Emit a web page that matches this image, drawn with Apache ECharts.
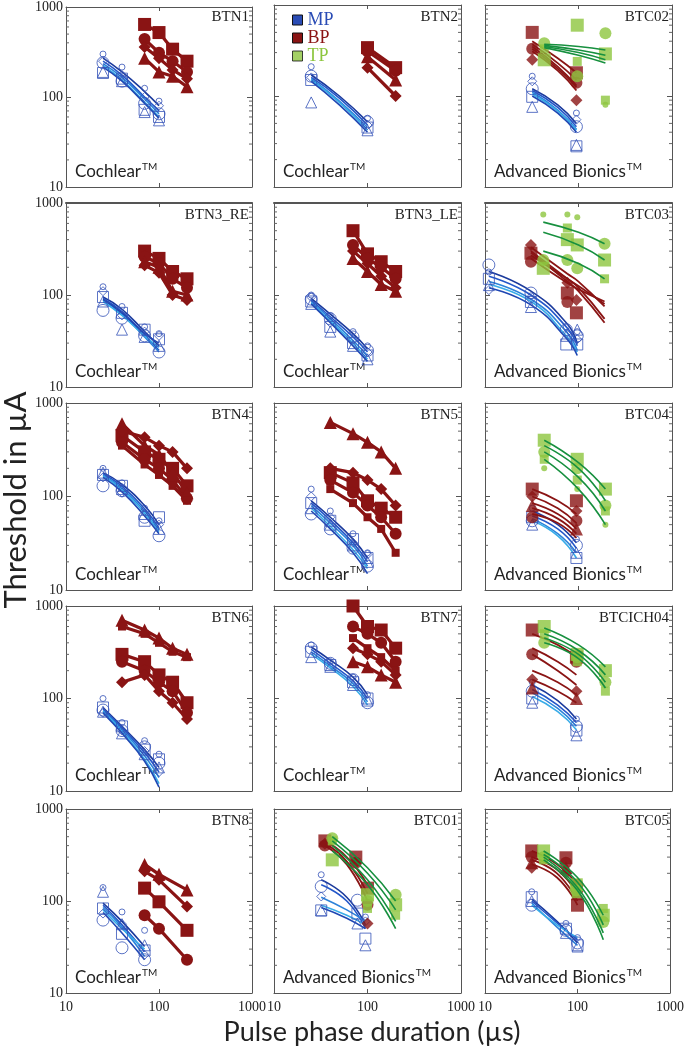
<!DOCTYPE html>
<html><head><meta charset="utf-8">
<script src="https://cdn.jsdelivr.net/npm/echarts@6/dist/echarts.min.js"></script>
<style>html,body{margin:0;padding:0;background:#fff}#c{width:687px;height:1050px}</style>
</head><body><div id="c"></div><script>
// ---------- shared x positions (µs) ----------
const CI_MP_X = [25, 40, 70, 100];
const CI_BP_X = [70, 100, 140, 200];
const CI_BP_X5 = [40, 70, 100, 140, 200];
const AB_MP_X = [32, 95];
const AB_FX = [32, 60, 95];
const AB_TP_X = [43, 97, 194];
const AB_TP_FX = [43, 100, 194];
const TICKS_MINOR = [20,30,40,50,60,70,80,90,200,300,400,500,600,700,800,900];

// ---------- BTN1 ----------
const BTN1_MP = [[300,215,125,90],[240,150,85,65],[185,160,72,60],[190,150,68,55],[250,175,100,80]];
const BTN1_MP_FIT = [[270,190,115,80],[250,175,100,70],[235,165,95,65],[225,155,88,60],[215,150,85,58]];
const BTN1_BP = [[640,520,340,250],[440,310,250,190],[360,270,200,160],[270,190,170,130]];
// ---------- BTN2 ----------
const BTN2_MP_X = [25, 100];
const BTN2_MP = [[210,57],[165,52],[150,45],[85,42],[160,48]];
const BTN2_MP_FX = [25, 50, 100];
const BTN2_MP_FIT = [[170,100,52],[160,95,48],[155,88,45],[150,85,42],[145,80,40]];
const BTN2_BP_X = [100, 200];
const BTN2_BP = [[340,205],[310,190],[205,100],[270,150]];
// ---------- BTC02 ----------
const BTC02_MP = [[165,65],[120,46],[98,28],[76,29],[145,55]];
const BTC02_MP_FIT = [[120,80,50],[115,75,46],[110,70,43],[105,68,42],[100,65,40]];
const BTC02_BP = [[500,180],[330,140],[250,90]];
const BTC02_BP_FIT = [[400,260,180],[370,230,150],[350,210,130],[330,200,125],[310,190,115]];
const BTC02_TP = [[250,600,290],[380,165,490],[330,240,90],[null,null,80]];
const BTC02_TP_FIT = [[370,350,320],[360,320,280],[350,300,250],[340,280,230]];
// ---------- BTN3_RE ----------
const BTN3_RE_MP = [[123,75,45,38],[68,56,36,24],[95,64,42,33],[85,42,35,28],[110,60,40,36]];
const BTN3_RE_MP_FIT = [[95,70,40,28],[92,66,37,25],[88,62,35,24],[85,60,36,27],[90,64,38,30]];
const BTN3_RE_BP = [[300,250,180,150],[260,220,150,120],[210,175,100,88],[230,200,110,100]];
// ---------- BTN3_LE ----------
const BTN3_LE_MP = [[100,60,40,28],[90,55,35,25],[85,45,30,22],[80,40,28,20],[95,50,33,24]];
const BTN3_LE_MP_FIT = [[92,62,38,26],[88,58,35,24],[85,55,32,22],[82,52,30,20],[80,50,28,19]];
const BTN3_LE_BP = [[500,280,230,180],[350,250,200,150],[300,220,160,120],[250,180,130,110]];
// ---------- BTC03 ----------
const BTC03_MP_X = [11, 31, 74, 97];
const BTC03_MP = [[178,98,45,40],[212,105,42,36],[150,84,29,29],[128,74,36,42],[113,90,38,33]];
const BTC03_MP_FIT = [[180,110,50,30],[160,100,45,28],[140,90,40,25],[130,85,36,24],[120,78,34,22]];
const BTC03_BP_X = [31, 76, 95];
const BTC03_BP = [[285,105,64],[230,84,null],[350,136,88]];
const BTC03_BP_FX = [31, 76, 100, 190];
const BTC03_BP_FIT = [[330,170,140,75],[300,150,120,55],[290,140,110,50],[270,150,125,80],[250,135,115,85]];
const BTC03_TP_X = [42, 76, 97, 190];
const BTC03_TP = [[195,400,350,240],[240,240,195,360],[null,535,null,150],[750,750,700,null]];
const BTC03_TP_FX = [42, 100, 190];
const BTC03_TP_FIT = [[620,480,360],[480,350,240],[300,220,150]];
// ---------- BTN4 ----------
const BTN4_MP = [[200,140,75,55],[130,115,60,38],[170,130,55,60],[180,120,65,45],[160,110,70,50]];
const BTN4_MP_FIT = [[180,135,80,50],[175,128,74,46],[170,122,70,44],[165,118,66,42],[160,112,62,40]];
const BTN4_BP = [[450,300,250,200,130],[380,250,200,150,95],[500,430,350,300,200],[600,350,280,180,110],[350,220,170,130,90]];
// ---------- BTN5 ----------
const BTN5_MP = [[120,70,40,25],[65,45,28,18],[85,55,35,22],[75,50,30,20],[100,60,32,24]];
const BTN5_MP_FIT = [[90,60,35,22],[85,56,32,20],[80,52,30,18],[75,48,27,17],[70,45,25,15]];
const BTN5_BP = [[180,140,90,75,60],[150,110,80,60,40],[200,180,150,120,80],[620,470,380,300,200],[120,85,60,45,25]];
// ---------- BTC04 ----------
const BTC04_MP = [[75,35],[55,30],[60,22],[50,25]];
const BTC04_MP_FIT = [[70,50,32],[62,45,28],[58,40,25],[55,38,22]];
const BTC04_BP = [[120,90],[60,55],[100,70],[80,45]];
const BTC04_BP_FIT = [[120,90,65],[100,75,52],[85,65,45],[75,58,40],[65,52,36]];
const BTC04_TP = [[400,250,120],[300,200,80],[250,150,70],[200,120,50]];
const BTC04_TP_FIT = [[400,230,120],[350,200,90],[300,160,70],[250,120,50]];
// ---------- BTN6 ----------
const BTN6_MP = [[100,55,35,25],[75,45,30,20],[80,50,28,22],[72,42,25,18],[70,45,27,16]];
const BTN6_MP_FIT = [[80,50,28,18],[77,48,26,16],[74,46,24,14],[72,44,22,12],[70,42,21,11]];
const BTN6_BP = [[300,250,180,150,90],[250,200,150,120,70],[150,180,120,90,60],[700,550,450,350,300],[600,500,400,320,280]];
// ---------- BTN7 ----------
const BTN7_MP = [[380,250,170,110],[350,240,160,90],[320,230,150,100],[280,220,140,95]];
const BTN7_MP_FIT = [[360,260,170,110],[340,240,155,100],[320,225,145,92],[300,215,135,85]];
const BTN7_BP = [[1000,600,550,350],[600,500,400,250],[350,300,250,180],[250,220,180,150],[450,350,280,200]];
// ---------- BTCICH04 ----------
const BTCICH04_MP = [[150,60],[120,50],[100,45],[90,40]];
const BTCICH04_MP_FIT = [[140,95,60],[125,85,55],[115,78,50],[105,72,46]];
const BTCICH04_BP = [[550,280],[300,250],[160,120],[130,100]];
const BTCICH04_BP_FIT = [[500,380,280],[350,250,180],[300,200,140],[200,150,110],[160,120,90]];
const BTCICH04_TP = [[600,300,200],[400,280,150],[500,250,120]];
const BTCICH04_TP_FIT = [[580,380,220],[500,330,180],[450,300,150],[400,270,130]];
// ---------- BTN8 ----------
const BTN8_MP_X = [25, 40, 70];
const BTN8_MP = [[140,76,48],[62,31,23],[83,44,29],[126,56,33],[73,56,26]];
const BTN8_MP_FIT = [[95,60,32],[90,55,28],[85,52,25],[80,50,30],[75,45,23]];
const BTN8_BP_X = [70, 100, 200];
const BTN8_BP = [[138,98,48],[70,50,23],[210,170,87],[250,195,132]];
// ---------- BTC01 ----------
const BTC01_MP_X = [32, 78, 95];
const BTC01_MP = [[193,null,67],[144,102,null],[79,73,39],[79,57,33],[112,null,60]];
const BTC01_MP_FIT = [[170,110,55],[150,100,50],[110,80,60],[90,70,55],[85,65,50]];
const BTC01_BP_X = [35, 75, 100];
const BTC01_BP = [[450,300,138],[400,260,91],[420,260,57]];
const BTC01_BP_FX = [35, 60, 100];
const BTC01_BP_FIT = [[450,300,150],[420,270,120],[400,250,100]];
const BTC01_TP_X = [42, 100, 200];
const BTC01_TP = [[280,117,91],[480,100,117],[450,83,70]];
const BTC01_TP_FIT = [[500,230,100],[450,200,80],[400,170,60],[350,150,50]];
// ---------- BTC05 ----------
const BTC05_MP_X = [32, 75, 100];
const BTC05_MP = [[126,57,40],[90,48,35],[110,50,33],[100,45,32]];
const BTC05_MP_FX = [32, 60, 100];
const BTC05_MP_FIT = [[105,60,35],[100,58,38],[95,52,33],[90,55,40]];
const BTC05_BP = [[350,295,90],[300,260,150],[230,200,126],[260,230,120]];
const BTC05_BP_FIT = [[350,250,150],[300,220,120],[280,200,100],[250,180,90]];
const BTC05_TP_X = [43, 97, 190];
const BTC05_TP = [[350,150,70],[300,130,59],[280,120,83]];
const BTC05_TP_FX = [43, 100, 190];
const BTC05_TP_FIT = [[350,180,70],[320,160,55],[300,140,45],[280,130,38]];

// ---------- panel table (built from the arrays above) ----------
const PANELS = [
 {name:'BTN1', brand:'Cochlear', mp:[CI_MP_X,BTN1_MP,CI_MP_X,BTN1_MP_FIT], bp:[CI_BP_X,BTN1_BP]},
 {name:'BTN2', brand:'Cochlear', mp:[BTN2_MP_X,BTN2_MP,BTN2_MP_FX,BTN2_MP_FIT], bp:[BTN2_BP_X,BTN2_BP]},
 {name:'BTC02', brand:'Advanced Bionics', mp:[AB_MP_X,BTC02_MP,AB_FX,BTC02_MP_FIT], bp:[AB_MP_X,BTC02_BP,AB_FX,BTC02_BP_FIT], tp:[AB_TP_X,BTC02_TP,AB_TP_FX,BTC02_TP_FIT]},
 {name:'BTN3_RE', brand:'Cochlear', mp:[CI_MP_X,BTN3_RE_MP,CI_MP_X,BTN3_RE_MP_FIT], bp:[CI_BP_X,BTN3_RE_BP]},
 {name:'BTN3_LE', brand:'Cochlear', mp:[CI_MP_X,BTN3_LE_MP,CI_MP_X,BTN3_LE_MP_FIT], bp:[CI_BP_X,BTN3_LE_BP]},
 {name:'BTC03', brand:'Advanced Bionics', mp:[BTC03_MP_X,BTC03_MP,BTC03_MP_X,BTC03_MP_FIT], bp:[BTC03_BP_X,BTC03_BP,BTC03_BP_FX,BTC03_BP_FIT], tp:[BTC03_TP_X,BTC03_TP,BTC03_TP_FX,BTC03_TP_FIT]},
 {name:'BTN4', brand:'Cochlear', mp:[CI_MP_X,BTN4_MP,CI_MP_X,BTN4_MP_FIT], bp:[CI_BP_X5,BTN4_BP]},
 {name:'BTN5', brand:'Cochlear', mp:[CI_MP_X,BTN5_MP,CI_MP_X,BTN5_MP_FIT], bp:[CI_BP_X5,BTN5_BP]},
 {name:'BTC04', brand:'Advanced Bionics', mp:[AB_MP_X,BTC04_MP,AB_FX,BTC04_MP_FIT], bp:[AB_MP_X,BTC04_BP,AB_FX,BTC04_BP_FIT], tp:[AB_TP_X,BTC04_TP,AB_TP_FX,BTC04_TP_FIT]},
 {name:'BTN6', brand:'Cochlear', mp:[CI_MP_X,BTN6_MP,CI_MP_X,BTN6_MP_FIT], bp:[CI_BP_X5,BTN6_BP]},
 {name:'BTN7', brand:'Cochlear', mp:[CI_MP_X,BTN7_MP,CI_MP_X,BTN7_MP_FIT], bp:[CI_BP_X,BTN7_BP]},
 {name:'BTCICH04', brand:'Advanced Bionics', mp:[AB_MP_X,BTCICH04_MP,AB_FX,BTCICH04_MP_FIT], bp:[AB_MP_X,BTCICH04_BP,AB_FX,BTCICH04_BP_FIT], tp:[AB_TP_X,BTCICH04_TP,AB_TP_FX,BTCICH04_TP_FIT]},
 {name:'BTN8', brand:'Cochlear', mp:[BTN8_MP_X,BTN8_MP,BTN8_MP_X,BTN8_MP_FIT], bp:[BTN8_BP_X,BTN8_BP]},
 {name:'BTC01', brand:'Advanced Bionics', mp:[BTC01_MP_X,BTC01_MP,AB_FX,BTC01_MP_FIT], bp:[BTC01_BP_X,BTC01_BP,BTC01_BP_FX,BTC01_BP_FIT], tp:[BTC01_TP_X,BTC01_TP,BTC01_TP_X,BTC01_TP_FIT]},
 {name:'BTC05', brand:'Advanced Bionics', mp:[BTC05_MP_X,BTC05_MP,BTC05_MP_FX,BTC05_MP_FIT], bp:[BTC05_MP_X,BTC05_BP,BTC05_MP_FX,BTC05_BP_FIT], tp:[BTC05_TP_X,BTC05_TP,BTC05_TP_FX,BTC05_TP_FIT]}
];

// ---------- layout & style ----------
const COL_LEFT = [66, 274, 485];
const COL_W = [186, 187, 187];
const ROW_TOP = [5, 203, 403, 606, 809];
const ROW_H = [182, 184, 187, 185, 184];
const MP_COLOR = '#3552b8';
const BP_COLOR = '#8a1414';
const TP_COLOR = '#8dc63f';
const TP_LINE = '#17903f';
const MP_LINES = ['#1b3a9c','#2457c9','#2c82d9','#38ace8','#1f47b3'];
const MP_SYM = ['circle','circle','rect','triangle','diamond'];
const MP_SIZE = [6,12,11,11,9];
const BP_SYM = ['rect','circle','diamond','triangle','rect'];
const BP_SIZE = [13,12,12,13,8];
const TP_SYM = ['rect','circle','rect','circle'];
const TP_SIZE = [13,12,9,6];
const SERIF = '"Liberation Serif","Times New Roman",serif';
const SANS = 'Lato,"Open Sans",sans-serif';

function pts(xs, ys){ const o=[]; xs.forEach((x,i)=>{ if(ys[i]!=null) o.push([x, ys[i]]); }); return o; }

const grids=[], xAxes=[], yAxes=[], series=[], graphics=[];
PANELS.forEach((p,k)=>{
  const r=Math.floor(k/3), c=k%3;
  const left=COL_LEFT[c], top=ROW_TOP[r], w=COL_W[c], h=ROW_H[r];
  grids.push({left:left, top:top, width:w, height:h, containLabel:false});
  const axLine = {show:true, lineStyle:{color:'#555', width:1}};
  const fmt = v => String(Math.round(v));
  xAxes.push({gridIndex:k, type:'log', logBase:10, min:10, max:1000, position:'bottom',
    axisLine:axLine, splitLine:{show:false},
    axisTick:{show:true, inside:true, length:4, lineStyle:{color:'#555'}},
    axisLabel:{show:r===4, formatter:fmt, fontFamily:SERIF, fontSize:14, color:'#222', margin:7, showMinLabel:true, showMaxLabel:true}});
  xAxes.push({gridIndex:k, type:'log', logBase:10, min:10, max:1000, position:'top',
    axisLine:{show:true, lineStyle:{color:'#555', width:(r===1?2:1)}}, splitLine:{show:false},
    axisTick:{show:true, inside:true, length:4, lineStyle:{color:'#555'}}, axisLabel:{show:false}});
  yAxes.push({gridIndex:k, type:'log', logBase:10, min:10, max:1000, position:'left',
    axisLine:axLine, splitLine:{show:false},
    axisTick:{show:true, inside:true, length:5, lineStyle:{color:'#555'}},
    axisLabel:{show:c===0, formatter:fmt, fontFamily:SERIF, fontSize:14, color:'#222', margin:3, showMinLabel:true, showMaxLabel:true}});
  yAxes.push({gridIndex:k, type:'log', logBase:10, min:10, max:1000, position:'right',
    axisLine:axLine, splitLine:{show:false},
    axisTick:{show:true, inside:true, length:5, lineStyle:{color:'#555'}}, axisLabel:{show:false}});
  const xi=2*k, yi=2*k;
  // minor ticks on left and right
  series.push({type:'custom', xAxisIndex:xi, yAxisIndex:yi, silent:true, clip:false, z:1,
    data: TICKS_MINOR.map(v=>[10,v]),
    renderItem:(params, api)=>{
      const v=api.value(1); const a=api.coord([10,v]); const b=api.coord([1000,v]);
      return {type:'group', children:[
        {type:'line', shape:{x1:a[0], y1:a[1], x2:a[0]+3, y2:a[1]}, style:{stroke:'#666', lineWidth:1}},
        {type:'line', shape:{x1:b[0]-3, y1:b[1], x2:b[0], y2:b[1]}, style:{stroke:'#666', lineWidth:1}}]};
    }});
  // MP
  const [mx, my, mfx, mfy] = p.mp;
  mfy.forEach((ys,e)=>series.push({type:'line', name:'MP', xAxisIndex:xi, yAxisIndex:yi, data:pts(mfx,ys),
    smooth:0.5, showSymbol:false, silent:true, z:2, lineStyle:{color:MP_LINES[e%MP_LINES.length], width:1.6}}));
  my.forEach((ys,e)=>series.push({type:'scatter', name:'MP', xAxisIndex:xi, yAxisIndex:yi, data:pts(mx,ys),
    symbol:MP_SYM[e%MP_SYM.length], symbolSize:MP_SIZE[e%MP_SIZE.length], z:3,
    itemStyle:{color:'rgba(255,255,255,0)', borderColor:MP_COLOR, borderWidth:1}}));
  // BP
  const [bx, by, bfx, bfy] = p.bp;
  if (bfx) {
    bfy.forEach((ys,e)=>series.push({type:'line', name:'BP', xAxisIndex:xi, yAxisIndex:yi, data:pts(bfx,ys),
      smooth:0.5, showSymbol:false, silent:true, z:4, lineStyle:{color:BP_COLOR, width:1.8}}));
    by.forEach((ys,e)=>series.push({type:'scatter', name:'BP', xAxisIndex:xi, yAxisIndex:yi, data:pts(bx,ys),
      symbol:BP_SYM[e%BP_SYM.length], symbolSize:BP_SIZE[e%BP_SIZE.length], z:5, itemStyle:{color:BP_COLOR}}));
  } else {
    by.forEach((ys,e)=>series.push({type:'line', name:'BP', xAxisIndex:xi, yAxisIndex:yi, data:pts(bx,ys),
      symbol:BP_SYM[e%BP_SYM.length], symbolSize:BP_SIZE[e%BP_SIZE.length], showSymbol:true, z:5,
      lineStyle:{color:BP_COLOR, width:3.2}, itemStyle:{color:BP_COLOR}}));
  }
  // TP
  if (p.tp) {
    const [tx, ty, tfx, tfy] = p.tp;
    ty.forEach((ys,e)=>series.push({type:'scatter', name:'TP', xAxisIndex:xi, yAxisIndex:yi, data:pts(tx,ys),
      symbol:TP_SYM[e%TP_SYM.length], symbolSize:TP_SIZE[e%TP_SIZE.length], z:6, itemStyle:{color:TP_COLOR}}));
    tfy.forEach((ys,e)=>series.push({type:'line', name:'TP', xAxisIndex:xi, yAxisIndex:yi, data:pts(tfx,ys),
      smooth:0.5, showSymbol:false, silent:true, z:7, lineStyle:{color:TP_LINE, width:1.6}}));
  }
  // panel name (top right) and brand (bottom left)
  graphics.push({type:'text', x:left+w-3, y:top+5, silent:true,
    style:{text:p.name, font:'15px '+SERIF, fill:'#222', textAlign:'right', textVerticalAlign:'top', align:'right', verticalAlign:'top'}});
  graphics.push({type:'text', x:left+9, y:top+h-5, silent:true,
    style:{text:'{a|'+p.brand+'}{b|TM}', textAlign:'left', textVerticalAlign:'bottom', align:'left', verticalAlign:'bottom',
      rich:{a:{fontFamily:SANS, fontSize:17, fill:'#222', lineHeight:20},
            b:{fontFamily:SANS, fontSize:10, fill:'#222', lineHeight:20, verticalAlign:'top', padding:[0,0,0,1]}}}});
});

graphics.push({type:'text', x:16, y:500, rotation:Math.PI/2, silent:true,
  style:{text:'Threshold in \u00b5A', font:'31px '+SANS, fill:'#222', textAlign:'center', textVerticalAlign:'middle', align:'center', verticalAlign:'middle'}});
graphics.push({type:'text', x:372, y:1032, silent:true,
  style:{text:'Pulse phase duration (\u00b5s)', font:'27px '+SANS, fill:'#222', textAlign:'center', textVerticalAlign:'middle', align:'center', verticalAlign:'middle'}});

const chart = echarts.init(document.getElementById('c'), null, {renderer:'canvas'});
chart.setOption({
  animation:false,
  backgroundColor:'#fff',
  grid:grids, xAxis:xAxes, yAxis:yAxes, series:series, graphic:graphics,
  legend:{show:true, selectedMode:false, orient:'vertical', left:287, top:6, itemWidth:10, itemHeight:10, itemGap:0, icon:'rect',
    textStyle:{fontFamily:SERIF, fontSize:18, lineHeight:18},
    data:[
      {name:'MP', itemStyle:{color:'#2a4cb5', borderColor:'#111', borderWidth:1}, textStyle:{color:'#2a4cb5'}},
      {name:'BP', itemStyle:{color:BP_COLOR, borderColor:'#111', borderWidth:1}, textStyle:{color:BP_COLOR}},
      {name:'TP', itemStyle:{color:TP_COLOR, borderColor:'#111', borderWidth:1}, textStyle:{color:TP_COLOR}}
    ]}
});
</script></body></html>
